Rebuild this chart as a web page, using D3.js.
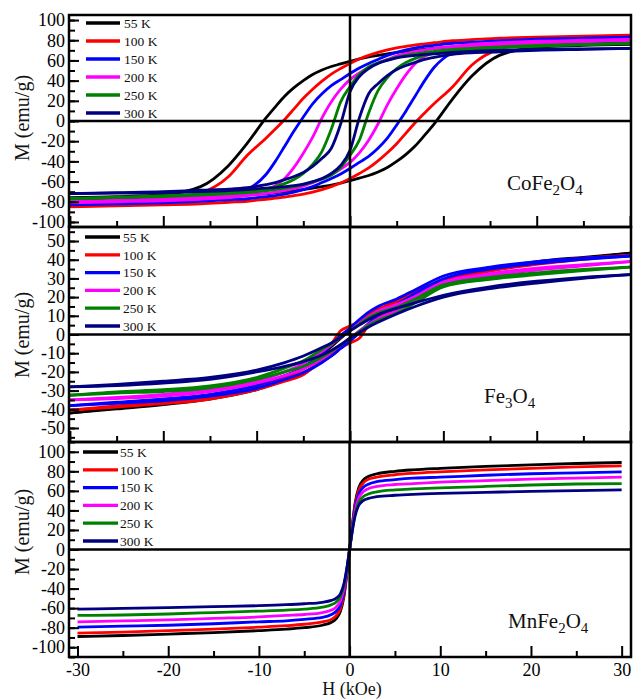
<!DOCTYPE html>
<html>
<head>
<meta charset="utf-8">
<script src="https://cdn.jsdelivr.net/npm/d3@7/dist/d3.min.js"></script>
<style>
  body { margin: 0; background: #fff; }
  text { font-family: "Liberation Serif", "Times New Roman", serif; }
</style>
</head>
<body>
<div id="viz"></div>
<script>
var temps = ["55 K", "100 K", "150 K", "200 K", "250 K", "300 K"];
var tempColors = ["#000000", "#ff0000", "#0000ff", "#ff00ff", "#008000", "#000080"];

// CoFe2O4 : field grid (kOe) and M (emu/g) for each temperature
var hCo = [-30,-25,-20,-16,-13,-11,-9,-8,-7,-6,-5,-4,-3,-2,-1,0,1,2,3,4,5,6,7,8,9,11,13,16,20,25,30];
var coDesc = [ // branch coming down from +30 kOe
  [-76,-75,-73,-65,-44,-22,3,14,24.5,33,40,46,50.5,54,56.5,59,61.5,63.5,65,66.5,68,69,70,71,72,73,74,75,76,76.5,77],
  [-83,-81,-78,-71.5,-55,-34,-17,-8,1.5,12,22.5,31.5,39.5,46.5,52,57,61.5,65,68,70.5,72.5,74,75.5,76.5,77.5,79.5,80.5,82,83,84,85],
  [-82,-80,-78,-76.5,-74,-68,-53,-40,-25,-10,4,17,27,35,41,47,52.5,57,61,65,68,70.5,72.5,74,75,77,78,79.5,81,82,83],
  [-80,-78.5,-77,-75.5,-74,-72,-68,-64,-57,-46,-32,-16,3,19,31.5,41,47.5,53,57.5,61,64.5,67,69,70.5,72,74,76,77.5,79,80,81],
  [-77,-75.5,-74,-72.5,-71,-69.5,-67,-65,-62,-58,-52,-43,-30,-8,19,34,46,53.5,57.5,60.5,63,65,66.5,68,69,71,72,73.5,75,76,77],
  [-72,-71,-70,-68.5,-67.5,-66,-63,-61,-58,-55,-51,-45,-37,-27,-3,29,44,52,57,60,62.5,64,65,66,66.5,68,69,70,71,71.5,72]
];
var coAsc = [ // branch going up from -30 kOe
  [-77,-76.5,-76,-75,-74,-73,-72,-71,-70,-69,-68,-66.5,-65,-63.5,-61.5,-59,-56.5,-54,-50.5,-46,-40,-33,-24.5,-14,-3,22,44,65,73,75,76],
  [-85,-84,-83,-82,-80.5,-79.5,-77.5,-76.5,-75.5,-74,-72.5,-70.5,-68,-65,-61.5,-57,-52,-46.5,-39.5,-31.5,-22.5,-12,-1.5,8,17,34,55,71.5,78,81,83],
  [-83,-82,-81,-79.5,-78,-77,-75,-74,-72.5,-70.5,-68,-65,-61,-57,-52.5,-47,-41,-35,-27,-17,-4,10,25,40,53,68,74,76.5,78,80,82],
  [-81,-80,-79,-77.5,-76,-74,-72,-70.5,-69,-67,-64.5,-61,-57.5,-53,-47.5,-41,-31.5,-19,-3,16,32,46,57,64,68,72,74,75.5,77,78.5,80],
  [-77,-76,-75,-73.5,-72,-71,-69,-68,-66.5,-65,-63,-60.5,-57.5,-53.5,-46,-34,-19,8,30,43,52,58,62,65,67,69.5,71,72.5,74,75.5,77],
  [-72,-71.5,-71,-70,-69,-68,-66.5,-66,-65,-64,-62.5,-60,-57,-52,-44,-29,3,27,37,45,51,55,58,61,63,66,67.5,68.5,70,71,72]
];

// Fe3O4
var hFe = [-30,-25,-20,-15,-10,-7,-5,-3,-2,-1,0,1,2,3,5,7,10,15,20,25,30];
var feDesc = [
  [-42,-39.2,-36.5,-33.5,-28.5,-22.5,-17.5,-10.5,-6.5,-2,2.5,6.5,10.5,13,18,23,29,35,39,41.3,43.5],
  [-40.5,-38.2,-36,-33.5,-28.5,-23,-18.5,-9.5,-5,2,4.5,7,10.5,13.5,17.5,22.5,29.5,35,38.5,40.8,42.5],
  [-38,-36.2,-34.5,-32,-27.2,-22,-17.5,-10,-5.5,-0.5,3.5,8,12,15,19,24,31.3,36,39,40.8,42],
  [-35,-33.7,-32,-29.5,-25,-20,-15.5,-9,-5.5,-1.5,2,6,9.5,12.5,16,20.5,28,32.5,35.5,37.3,39],
  [-32.5,-30.7,-29.5,-27.5,-23,-18,-14,-8,-5,-1.5,2,5.5,9,11.5,14.5,19,26.5,30.5,33,34.8,36],
  [-28,-26.7,-25,-23,-19,-15,-11.5,-7,-4.5,-1.5,2,5,8,10.5,14,17,21,25.5,28.5,30.6,32]
];
var feAsc = [
  [-42,-39.8,-37.5,-34.5,-29.5,-24.5,-20.5,-14.5,-11.5,-7,-2.5,1.5,5.5,9,15,21,28,34,38,40.7,43.5],
  [-40.5,-38.8,-37,-34.5,-29.5,-25,-21.5,-14,-10.5,-7,-4.5,-2,5,9.5,14.5,20.5,28.5,34,37.5,40.2,42.5],
  [-38,-36.8,-35.5,-33,-28.8,-24,-20.5,-15,-11.5,-7.5,-3.5,1,6,10,16,22,29.7,35,38,40.2,42],
  [-35,-34.3,-33,-30.5,-26,-22,-18.5,-13,-9.5,-5.5,-2,2,5.5,8.5,13,18.5,27,31.5,34.5,36.7,39],
  [-32.5,-31.3,-30.5,-28.5,-24,-20,-17,-12,-9,-5.5,-2,1.5,5,7.5,11.5,17,25.5,29.5,32,34.2,36],
  [-28,-27.3,-26,-24,-20,-17,-14.5,-11,-8.5,-5.5,-2,1,4,6.5,11,15,20,24.5,27.5,30,32]
];

// MnFe2O4 (loop is closed, one curve per temperature)
var hMn = [-30,-25,-20,-15,-10,-7,-5,-3,-2,-1.5,-1,-0.6,-0.3,0,0.3,0.6,1,1.5,2,3,5,7,10,15,20,25,30];
var mnM = [
  [-89,-88,-86.5,-85,-83,-81.5,-80,-77.5,-74.5,-71,-63,-47,-25,0,25,47,63,71,74.5,77.5,80,81.5,83,85,86.5,88,89],
  [-85.5,-84.5,-83,-81.5,-79.5,-78,-76.5,-74,-71.5,-68,-60.5,-45,-24,0,24,45,60.5,68,71.5,74,76.5,78,79.5,81.5,83,84.5,85.5],
  [-79.5,-78.5,-77.5,-76,-74,-73,-71.5,-69.5,-66.5,-63.5,-56.5,-42,-22.5,0,22.5,42,56.5,63.5,66.5,69.5,71.5,73,74,76,77.5,78.5,79.5],
  [-74,-73,-72,-70.5,-69,-67.5,-66.5,-64.5,-62,-59,-52.5,-39,-21,0,21,39,52.5,59,62,64.5,66.5,67.5,69,70.5,72,73,74],
  [-67.5,-67,-66,-64.5,-63,-62,-61,-59,-56.5,-54,-48,-36,-19.5,0,19.5,36,48,54,56.5,59,61,62,63,64.5,66,67,67.5],
  [-61,-60.3,-59.5,-58.5,-57.5,-56.5,-55.5,-54,-52,-50,-45,-34,-19,0,19,34,45,50,52,54,55.5,56.5,57.5,58.5,59.5,60.3,61]
];

// tick labels
var xTicks = [-30, -20, -10, 0, 10, 20, 30];
var yTicksCo = [-100, -80, -60, -40, -20, 0, 20, 40, 60, 80, 100];
var yTicksFe = [-50, -40, -30, -20, -10, 0, 10, 20, 30, 40, 50];
var yTicksMn = [-100, -80, -60, -40, -20, 0, 20, 40, 60, 80, 100];

var L = 69, R = 631;

var panels = [
  { top: 15, bottom: 227, xDom: [-30.1, 30.1], yDom: [-105, 105], yTicks: yTicksCo, yMinor: d3.range(-100, 101, 10),
    h: hCo, branches: [coDesc, coAsc], leg: { x1: 86, x2: 120, tx: 124, y0: 23, dy: 18 },
    formula: [["CoFe", 0], ["2", 1], ["O", 0], ["4", 1]], fx: 507, fy: 190, labelY: 118, xLabels: false },
  { top: 227, bottom: 442, xDom: [-30.1, 30.1], yDom: [-57.5, 57.5], yTicks: yTicksFe, yMinor: d3.range(-55, 56, 5),
    h: hFe, branches: [feDesc, feAsc], leg: { x1: 85, x2: 120, tx: 123, y0: 237, dy: 17.8 },
    formula: [["Fe", 0], ["3", 1], ["O", 0], ["4", 1]], fx: 484, fy: 403, labelY: 335, xLabels: false },
  { top: 442, bottom: 657, xDom: [-30.94, 31.03], yDom: [-110, 110], yTicks: yTicksMn, yMinor: d3.range(-110, 111, 10),
    h: hMn, branches: [mnM], leg: { x1: 83, x2: 118, tx: 120, y0: 452, dy: 17.8 },
    formula: [["MnFe", 0], ["2", 1], ["O", 0], ["4", 1]], fx: 508, fy: 628, labelY: 532, xLabels: true }
];

var svg = d3.select("#viz").append("svg")
  .attr("width", 633)
  .attr("height", 699);

function styleAxis(ax, fontSize) {
  ax.select(".domain").remove();
  ax.selectAll("line").attr("stroke", "#000").attr("stroke-width", 2);
  ax.selectAll("text").attr("fill", "#000").attr("font-size", fontSize)
    .attr("font-family", "Liberation Serif, serif");
}

panels.forEach(function (p, pi) {
  var x = d3.scaleLinear().domain(p.xDom).range([L, R]);
  var y = d3.scaleLinear().domain(p.yDom).range([p.bottom, p.top]);
  var g = svg.append("g");

  g.append("clipPath").attr("id", "clip" + pi)
    .append("rect").attr("x", L).attr("y", p.top).attr("width", R - L).attr("height", p.bottom - p.top);

  var line = d3.line()
    .x(function (d) { return x(d[0]); })
    .y(function (d) { return y(d[1]); })
    .curve(d3.curveMonotoneX);

  var curves = g.append("g").attr("clip-path", "url(#clip" + pi + ")");
  temps.forEach(function (t, ti) {
    p.branches.forEach(function (b) {
      curves.append("path")
        .datum(p.h.map(function (hv, i) { return [hv, b[ti][i]]; }))
        .attr("d", line)
        .attr("fill", "none")
        .attr("stroke", tempColors[ti])
        .attr("stroke-width", 2.8)
        .attr("stroke-linejoin", "round");
    });
  });

  // zero lines
  g.append("line").attr("x1", L).attr("x2", R).attr("y1", y(0)).attr("y2", y(0))
    .attr("stroke", "#000").attr("stroke-width", 2.5);
  g.append("line").attr("x1", x(0)).attr("x2", x(0)).attr("y1", p.top).attr("y2", p.bottom)
    .attr("stroke", "#000").attr("stroke-width", 2.5);

  // y axis, ticks inside
  var yMin = g.append("g").attr("transform", "translate(" + L + ",0)")
    .call(d3.axisLeft(y).tickValues(p.yMinor).tickSize(-6).tickFormat(""));
  styleAxis(yMin, 18);
  var yAx = g.append("g").attr("transform", "translate(" + L + ",0)")
    .call(d3.axisLeft(y).tickValues(p.yTicks).tickSize(-10).tickPadding(4)
      .tickFormat(function (d) { return String(d); }));
  styleAxis(yAx, 18);

  // x axis at bottom of each panel, ticks pointing up
  var xMin = g.append("g").attr("transform", "translate(0," + p.bottom + ")")
    .call(d3.axisBottom(x).tickValues(d3.range(-25, 30, 10)).tickSize(-6).tickFormat(""));
  styleAxis(xMin, 18);
  var xAx = g.append("g").attr("transform", "translate(0," + p.bottom + ")")
    .call(d3.axisBottom(x).tickValues(xTicks).tickSize(-11).tickPadding(6)
      .tickFormat(function (d) { return p.xLabels ? String(d) : ""; }));
  styleAxis(xAx, 18);

  // frame
  g.append("rect").attr("x", L).attr("y", p.top).attr("width", R - L).attr("height", p.bottom - p.top)
    .attr("fill", "none").attr("stroke", "#000").attr("stroke-width", 2.5);

  // legend
  temps.forEach(function (t, ti) {
    var ly = p.leg.y0 + ti * p.leg.dy;
    g.append("line").attr("x1", p.leg.x1).attr("x2", p.leg.x2).attr("y1", ly).attr("y2", ly)
      .attr("stroke", tempColors[ti]).attr("stroke-width", 3.3);
    g.append("text").attr("x", p.leg.tx).attr("y", ly).attr("dy", "0.35em")
      .attr("font-size", 13.5).attr("fill", "#111").text(t);
  });

  // compound name
  var ft = g.append("text").attr("x", p.fx).attr("y", p.fy).attr("font-size", 21).attr("fill", "#111");
  p.formula.forEach(function (part, k) {
    var prevSub = k > 0 && p.formula[k - 1][1];
    ft.append("tspan")
      .attr("font-size", part[1] ? 15 : 21)
      .attr("dy", part[1] ? 5 : (prevSub ? -5 : 0))
      .text(part[0]);
  });

  // y label
  g.append("text")
    .attr("transform", "translate(29," + p.labelY + ") rotate(-90)")
    .attr("text-anchor", "middle")
    .attr("font-size", 20)
    .attr("fill", "#111")
    .text("M (emu/g)");
});

svg.append("text")
  .attr("x", 352).attr("y", 694.5)
  .attr("text-anchor", "middle")
  .attr("font-size", 18)
  .attr("fill", "#111")
  .text("H (kOe)");
</script>
</body>
</html>
